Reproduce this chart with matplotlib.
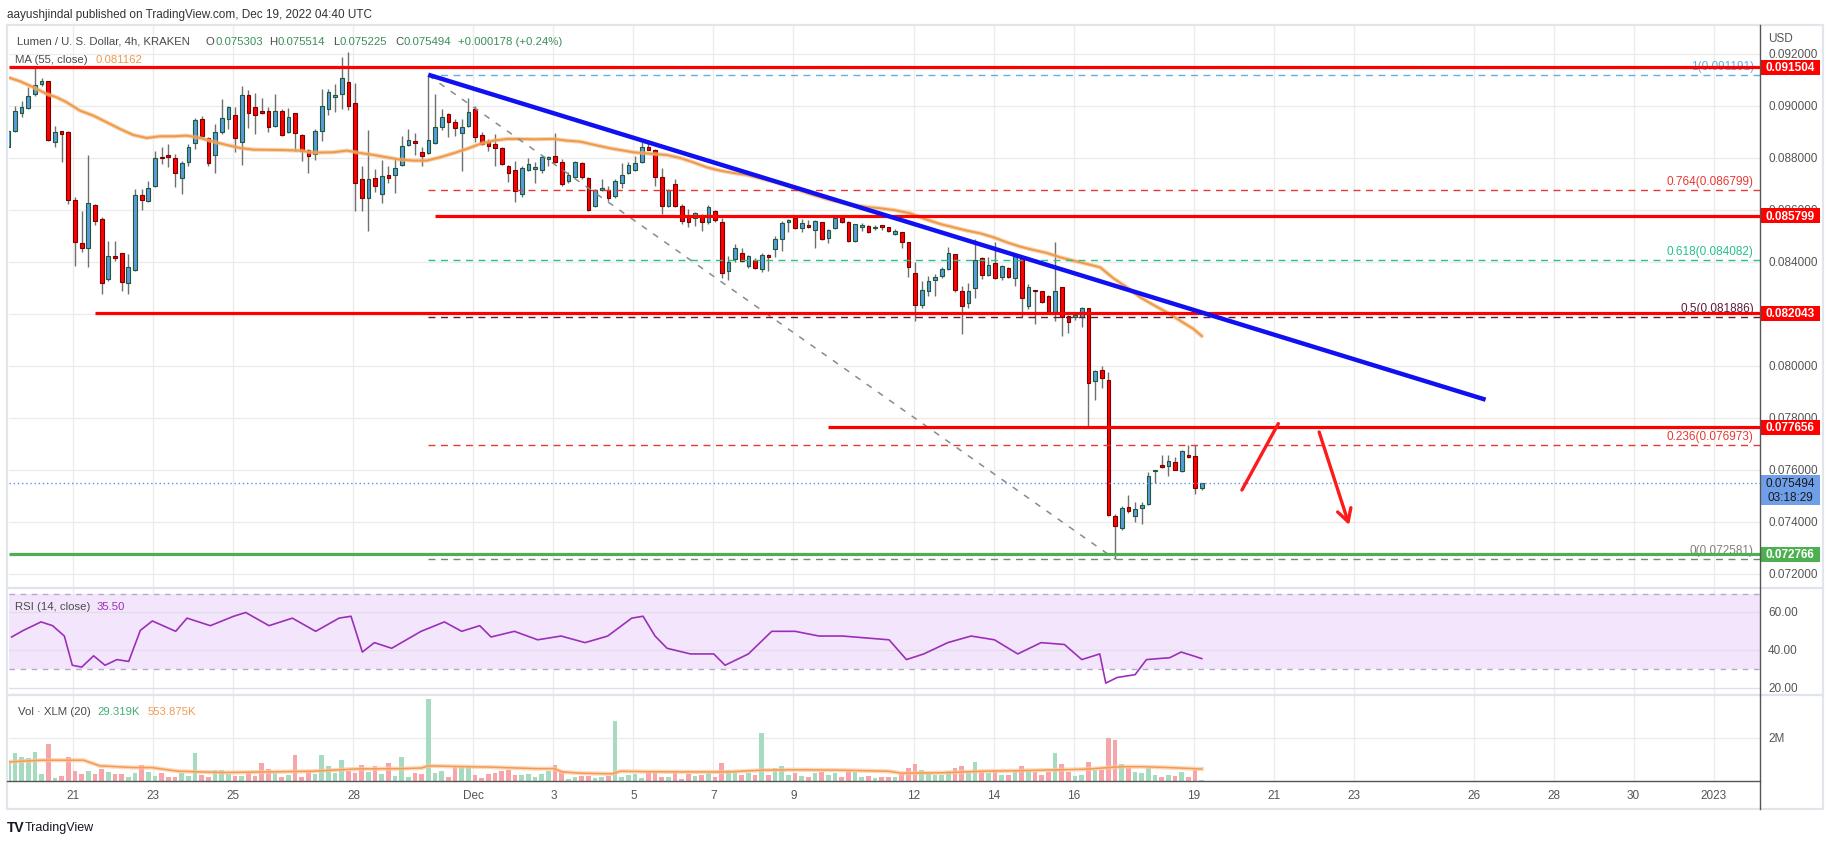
import matplotlib
matplotlib.use("Agg")
import matplotlib.pyplot as plt
import matplotlib.transforms as mtransforms
from matplotlib.patches import Rectangle
from matplotlib.lines import Line2D
import numpy as np

plt.rcParams['font.family'] = ['Liberation Sans', 'DejaVu Sans']

# ---------------- data ----------------
# candle k (k = 0 is the half-hidden candle at the left edge) sits at day DAY0 + k/6
DAY0 = 19.373
opens = [0.088420,
0.089064, 0.089731, 0.089923, 0.090462, 0.090846, 0.090962, 0.088616, 0.089039, 0.089013, 0.086398,
0.084731, 0.084539, 0.086218, 0.085667, 0.083347, 0.084218, 0.084347, 0.083193, 0.083706, 0.086603,
0.086347, 0.086949, 0.088026, 0.088077, 0.088000, 0.087231, 0.087846, 0.088577, 0.089500, 0.088782,
0.088129, 0.089000, 0.089500, 0.089680, 0.088616, 0.090449, 0.089962, 0.089769, 0.089808, 0.089231,
0.089834, 0.089026, 0.089731, 0.088898, 0.088334, 0.088167, 0.089039, 0.089898, 0.090346, 0.090462,
0.090923, 0.090116, 0.087193, 0.086462, 0.087231, 0.086616, 0.087347, 0.087347, 0.087731, 0.088500,
0.088654, 0.088231, 0.088193, 0.088577, 0.089193, 0.089718, 0.089385, 0.088987, 0.089231, 0.089885,
0.088885, 0.088616, 0.088552, 0.088385, 0.087693, 0.087539, 0.086616, 0.087564, 0.087603, 0.087539,
0.087962, 0.088077, 0.087846, 0.087141, 0.087295, 0.087821, 0.087231, 0.086154, 0.086770, 0.086782,
0.086564, 0.087038, 0.087436, 0.087564, 0.087870, 0.088430, 0.088321, 0.087270, 0.086154, 0.087013,
0.086154, 0.085744, 0.085692, 0.085731, 0.085539, 0.085962, 0.085539, 0.083679, 0.084115, 0.084346,
0.083846, 0.084077, 0.083731, 0.084270, 0.084500, 0.084898, 0.085564, 0.085692, 0.085333, 0.085423,
0.085231, 0.085551, 0.084923, 0.085308, 0.085692, 0.085564, 0.084808, 0.085372, 0.085385, 0.085308,
0.085398, 0.085346, 0.085077, 0.085154, 0.084769, 0.083577, 0.082372, 0.082885, 0.083308, 0.083462,
0.083744, 0.084308, 0.082885, 0.082436, 0.083000, 0.084154, 0.083500, 0.083962, 0.083436, 0.083782,
0.083410, 0.084192, 0.082333, 0.082923, 0.082885, 0.082692, 0.082077, 0.083038, 0.081923, 0.081910,
0.081885, 0.082231, 0.079423, 0.079872, 0.079460, 0.074257, 0.073769, 0.074577, 0.074231, 0.074539,
0.074693, 0.075962, 0.076205, 0.076154, 0.076308, 0.075962, 0.076590, 0.076564, 0.075303]
highs = [0.089060,
0.090026, 0.090193, 0.090731, 0.091475, 0.091090, 0.090987, 0.089257, 0.089064, 0.089064, 0.086500,
0.085988, 0.088141, 0.086244, 0.085731, 0.084834, 0.084808, 0.084347, 0.084321, 0.086821, 0.086821,
0.087141, 0.088270, 0.088423, 0.088552, 0.088167, 0.087911, 0.088552, 0.089552, 0.089641, 0.088808,
0.089321, 0.090282, 0.090026, 0.089962, 0.090769, 0.090628, 0.090500, 0.090321, 0.089962, 0.090475,
0.089898, 0.089936, 0.089757, 0.088936, 0.088372, 0.089128, 0.090667, 0.090667, 0.090859, 0.091885,
0.092077, 0.090885, 0.087705, 0.089090, 0.087590, 0.087949, 0.087705, 0.088013, 0.088859, 0.089116,
0.088975, 0.088423, 0.091191, 0.090475, 0.089898, 0.089731, 0.089500, 0.089500, 0.090321, 0.090026,
0.089000, 0.088744, 0.088936, 0.088423, 0.087744, 0.087911, 0.087718, 0.088013, 0.087846, 0.088103,
0.088103, 0.088975, 0.087962, 0.087462, 0.087911, 0.087846, 0.087270, 0.086834, 0.087205, 0.086949,
0.087205, 0.087821, 0.087846, 0.088100, 0.088620, 0.088700, 0.088359, 0.087615, 0.086821, 0.087205,
0.086244, 0.086051, 0.085949, 0.085859, 0.086205, 0.086000, 0.085692, 0.084257, 0.084705, 0.084564,
0.084295, 0.084154, 0.084346, 0.084321, 0.084999, 0.085603, 0.085667, 0.085731, 0.085667, 0.085641,
0.085641, 0.085564, 0.085282, 0.085731, 0.085731, 0.085603, 0.085487, 0.085513, 0.085423, 0.085436,
0.085410, 0.085359, 0.085270, 0.085154, 0.084795, 0.083999, 0.083282, 0.083487, 0.083551, 0.083808,
0.084577, 0.084333, 0.083103, 0.083205, 0.084897, 0.084192, 0.084192, 0.084769, 0.083897, 0.083833,
0.084282, 0.084256, 0.083154, 0.082949, 0.082897, 0.082731, 0.084769, 0.083064, 0.081974, 0.082103,
0.082295, 0.082256, 0.079859, 0.080000, 0.079769, 0.074308, 0.074616, 0.075051, 0.074770, 0.074770,
0.075923, 0.076026, 0.076590, 0.076590, 0.076513, 0.076795, 0.076962, 0.076987, 0.075514]
lows = [0.088420,
0.089000, 0.089603, 0.089898, 0.090410, 0.090769, 0.088680, 0.088423, 0.087846, 0.086244, 0.083872,
0.084385, 0.083834, 0.085449, 0.082783, 0.083295, 0.084065, 0.082911, 0.082783, 0.083680, 0.086013,
0.086308, 0.086885, 0.087782, 0.087654, 0.086885, 0.086629, 0.087718, 0.088359, 0.088808, 0.087718,
0.087423, 0.088936, 0.089128, 0.088231, 0.087757, 0.089167, 0.088936, 0.089705, 0.089026, 0.089218,
0.088859, 0.088962, 0.088295, 0.087885, 0.087436, 0.087936, 0.088680, 0.089680, 0.089769, 0.089898,
0.089872, 0.085962, 0.085962, 0.085218, 0.086718, 0.086270, 0.087064, 0.086680, 0.087718, 0.088475,
0.088141, 0.087718, 0.088167, 0.088552, 0.089100, 0.088834, 0.088872, 0.087500, 0.089218, 0.088616,
0.088526, 0.088295, 0.087718, 0.087744, 0.087103, 0.086308, 0.086526, 0.087526, 0.087039, 0.087423,
0.087693, 0.087808, 0.086949, 0.087039, 0.087270, 0.087205, 0.085988, 0.086141, 0.086731, 0.086372,
0.086462, 0.086846, 0.087397, 0.087526, 0.087800, 0.088300, 0.086949, 0.085859, 0.086115, 0.086115,
0.085474, 0.085372, 0.085410, 0.085218, 0.085474, 0.085564, 0.083410, 0.083334, 0.084000, 0.084000,
0.083795, 0.083744, 0.083641, 0.083680, 0.084193, 0.084449, 0.085154, 0.085282, 0.085179, 0.085333,
0.084564, 0.084859, 0.084731, 0.085282, 0.085513, 0.084795, 0.084795, 0.085218, 0.085128, 0.085231,
0.085231, 0.085154, 0.085051, 0.084539, 0.083449, 0.081756, 0.082256, 0.082692, 0.082692, 0.083410,
0.083718, 0.082872, 0.081244, 0.082256, 0.082641, 0.083359, 0.083462, 0.083359, 0.083333, 0.083410,
0.083103, 0.081898, 0.082205, 0.081641, 0.082436, 0.082077, 0.081756, 0.081180, 0.081269, 0.081795,
0.081500, 0.077693, 0.078718, 0.079154, 0.074257, 0.072581, 0.073705, 0.074346, 0.074026, 0.073923,
0.074667, 0.075513, 0.076103, 0.075769, 0.076000, 0.075949, 0.076487, 0.075080, 0.075225]
closes = [0.089060,
0.089834, 0.089987, 0.090385, 0.090834, 0.090962, 0.088718, 0.089000, 0.088936, 0.086411, 0.084795,
0.084539, 0.086270, 0.085577, 0.083193, 0.084244, 0.084180, 0.083257, 0.083808, 0.086603, 0.086411,
0.086847, 0.088000, 0.088000, 0.088052, 0.087423, 0.087808, 0.088423, 0.089475, 0.088872, 0.087808,
0.089000, 0.089539, 0.089987, 0.088770, 0.090436, 0.089731, 0.089680, 0.089744, 0.089193, 0.089808,
0.088885, 0.089603, 0.088962, 0.088295, 0.088103, 0.089039, 0.090000, 0.090539, 0.090423, 0.091077,
0.090026, 0.087039, 0.086462, 0.087193, 0.086923, 0.087308, 0.087257, 0.087629, 0.088462, 0.088693,
0.088577, 0.088103, 0.088693, 0.089193, 0.089577, 0.089385, 0.089154, 0.089193, 0.089769, 0.088808,
0.088552, 0.088487, 0.088385, 0.087770, 0.087423, 0.086731, 0.087641, 0.087770, 0.087629, 0.088064,
0.088064, 0.087846, 0.087000, 0.087347, 0.087872, 0.087282, 0.086000, 0.086782, 0.086847, 0.086475,
0.087141, 0.087359, 0.087744, 0.087821, 0.088450, 0.088320, 0.087295, 0.086154, 0.086782, 0.086154,
0.085603, 0.085564, 0.085885, 0.085539, 0.086115, 0.085616, 0.083577, 0.084000, 0.084551, 0.084039,
0.084257, 0.083769, 0.084270, 0.084193, 0.084898, 0.085500, 0.085628, 0.085308, 0.085513, 0.085346,
0.085577, 0.084885, 0.085244, 0.085705, 0.085539, 0.084808, 0.085462, 0.085398, 0.085154, 0.085359,
0.085372, 0.085192, 0.085205, 0.084769, 0.083808, 0.082372, 0.082923, 0.083269, 0.083423, 0.083744,
0.084360, 0.082923, 0.082308, 0.082885, 0.084077, 0.083500, 0.083885, 0.083385, 0.083846, 0.083449,
0.084231, 0.082615, 0.083038, 0.082885, 0.082462, 0.082103, 0.082885, 0.081885, 0.081692, 0.081936,
0.082231, 0.079346, 0.079821, 0.079538, 0.074282, 0.073872, 0.074539, 0.074449, 0.074500, 0.074654,
0.075782, 0.075987, 0.076141, 0.076359, 0.076026, 0.076731, 0.076500, 0.075308, 0.075494]

# volume in millions of XLM, one per candle
volumes = [0.90,
1.27, 1.09, 1.04, 1.35, 0.34, 1.69, 0.16, 0.22, 1.09, 0.45,
0.34, 0.48, 0.34, 0.57, 0.43, 0.31, 0.34, 0.20, 0.39, 0.76,
0.43, 0.25, 0.39, 0.20, 0.20, 0.39, 0.25, 1.27, 0.29, 0.20,
0.53, 0.50, 0.34, 0.25, 0.25, 0.39, 0.25, 0.81, 0.57, 0.39,
0.20, 0.29, 1.18, 0.20, 0.43, 0.34, 1.22, 0.71, 0.39, 0.95,
0.48, 0.39, 0.76, 0.43, 0.71, 0.34, 0.81, 0.25, 1.13, 0.20,
0.39, 0.31, 3.78, 0.39, 0.48, 0.20, 0.71, 0.67, 0.71, 0.29,
0.16, 0.34, 0.39, 0.48, 0.53, 0.29, 0.29, 0.34, 0.20, 0.34,
0.48, 0.76, 0.45, 0.11, 0.20, 0.25, 0.25, 0.16, 0.20, 0.25,
2.76, 0.20, 0.29, 0.34, 0.16, 0.48, 0.43, 0.20, 0.20, 0.40,
0.11, 0.34, 0.25, 0.30, 0.35, 0.20, 0.85, 0.50, 0.40, 0.30,
0.35, 0.30, 2.20, 0.30, 0.60, 0.70, 0.30, 0.35, 0.25, 0.20,
0.35, 0.40, 0.30, 0.35, 0.20, 0.45, 0.40, 0.20, 0.25, 0.15,
0.20, 0.20, 0.20, 0.35, 0.60, 0.80, 0.50, 0.35, 0.30, 0.30,
0.45, 0.60, 0.70, 0.40, 0.90, 0.45, 0.35, 0.50, 0.30, 0.30,
0.45, 0.70, 0.50, 0.40, 0.30, 0.40, 1.30, 0.80, 0.40, 0.25,
0.30, 0.90, 0.50, 0.50, 2.00, 1.90, 0.80, 0.60, 0.40, 0.35,
0.60, 0.30, 0.20, 0.30, 0.25, 0.40, 0.20, 0.50, 0.03]

# MA(55) readings: candle position (same numbering as above) and value
ma_pos = [0.25, 1.75, 3.75, 5.75, 7.25, 8.75, 10.75, 12.75, 14.75, 16.75, 18.75, 20.75, 22.75,
          24.75, 26.75, 28.75, 30.75, 32.75, 34.75, 36.75, 40.75, 43.75, 45.75, 48.75, 50.75,
          52.75, 54.75, 56.75, 58.75, 60.75, 62.75, 64.75, 66.75, 68.75, 70.75, 72.75, 74.75,
          76.75, 78.75, 81.75, 83.75, 85.75, 87.75, 90.25, 93.75, 96.75, 98.75, 100.75, 102.75,
          104.75, 106.75, 108.75, 110.75, 112.75, 114.75, 116.75, 118.75, 120.75, 122.75, 124.75,
          126.75, 128.75, 130.75, 132.75, 135.25, 137.75, 139.75, 141.75, 143.75, 145.75, 147.75,
          149.75, 151.75, 153.75, 155.75, 157.75, 159.75, 161.75, 163.75, 165.75, 167.75, 169.75,
          171.75, 173.75, 175.75, 177.75, 179]
ma_val = [0.091090, 0.090962, 0.090731, 0.090474, 0.090346, 0.090154, 0.089833, 0.089641, 0.089385,
          0.089128, 0.088897, 0.088782, 0.088846, 0.088846, 0.088872, 0.088782, 0.088641, 0.088513,
          0.088397, 0.088333, 0.088320, 0.088295, 0.088218, 0.088231, 0.088295, 0.088205, 0.088129,
          0.088039, 0.087949, 0.087911, 0.087911, 0.088039, 0.088193, 0.088359, 0.088552, 0.088680,
          0.088744, 0.088744, 0.088731, 0.088744, 0.088680, 0.088641, 0.088526, 0.088385, 0.088231,
          0.088167, 0.088128, 0.088013, 0.087846, 0.087654, 0.087526, 0.087436, 0.087359, 0.087231,
          0.087103, 0.086949, 0.086756, 0.086590, 0.086436, 0.086308, 0.086205, 0.086128, 0.086077,
          0.086013, 0.085885, 0.085640, 0.085474, 0.085346, 0.085218, 0.085115, 0.084961, 0.084769,
          0.084603, 0.084474, 0.084359, 0.084192, 0.084064, 0.083936, 0.083808, 0.083385, 0.083038,
          0.082654, 0.082359, 0.082077, 0.081756, 0.081436, 0.081162]

# RSI(14) readings
rsi_pos = [0.5, 2.26, 4.9, 6.64, 8.4, 9.6, 11, 12.8, 14.5, 16.3, 18.05, 19.8, 21.6, 25.1, 26.8,
           30.3, 33.8, 35.6, 39.1, 42.6, 46.1, 49.6, 51.4, 53.1, 54.9, 57.5, 61.9, 65.4, 68.0,
           70.7, 72.4, 75.9, 79.4, 82.9, 86.5, 89.9, 93.5, 95.2, 97, 98.8, 102.3, 105.8, 107.5,
           111, 114.5, 118, 121.6, 125.1, 132.1, 134.7, 137.3, 140.9, 144.4, 147.9, 151.4, 154.9,
           158.4, 161, 163.7, 164.6, 166.3, 169, 170.7, 174.2, 175.9, 177.7, 179]
rsi_val = [47, 50.5, 55, 53, 47.5, 32, 31, 37, 32, 35, 34, 50.5, 55.5, 50, 57, 53, 58, 60, 53,
           57, 50, 57, 58, 39, 44, 41, 50, 55, 50, 53, 47, 50, 45.5, 47.5, 44, 47.5, 57, 58,
           47.5, 41, 38, 38, 32, 38, 50, 50, 47.5, 47.5, 45.5, 35, 38, 44, 47.5, 45.5, 38, 44,
           43, 35, 38, 22.5, 25.5, 27, 35, 36, 39, 37, 35.5]

# Volume MA(20) readings
vma_pos = [0.0, 5.0, 11.3, 13.7, 18.8, 21.5, 25.5, 28.9, 32.2, 38.9, 45.6, 52.3, 59.0, 62.0,
           63.0, 65.7, 72.4, 79.1, 81.8, 83.1, 85.8, 90.5, 91.8, 95.8, 102.2, 108, 113, 118,
           125, 132, 134, 140, 146, 152, 158, 162, 165, 167, 170, 174, 179]
vma_val = [0.88, 0.96, 0.96, 0.70, 0.62, 0.62, 0.45, 0.42, 0.39, 0.42, 0.45, 0.56, 0.57, 0.60,
           0.70, 0.68, 0.64, 0.57, 0.57, 0.42, 0.36, 0.33, 0.45, 0.43, 0.42, 0.42, 0.50, 0.52,
           0.50, 0.45, 0.36, 0.38, 0.45, 0.48, 0.52, 0.55, 0.62, 0.66, 0.66, 0.62, 0.554]

# horizontal levels and drawings
red_levels = [0.091504, 0.085799, 0.082043, 0.077656]
red_starts = [19.39, 30.04, 21.54, 39.86]
green_level = 0.072766
last_price = 0.075494
fib_ratios = ['1', '0.764', '0.618', '0.5', '0.236', '0']
fib_levels = [0.091191, 0.086799, 0.084082, 0.081886, 0.076973, 0.072581]
fib_colors = ['#5eb0e5', '#e53935', '#26c08a', '#5b1a3c', '#e53935', '#808080']
fib_start, fib_end = 29.87, 47.04
trend_x = [29.87, 56.30]
trend_y = [0.091215, 0.078716]
arrow_up_x = [50.21, 51.12]
arrow_up_y = [0.075242, 0.077796]
arrow_dn_x = [52.14, 52.89]
arrow_dn_y = [0.077473, 0.073896]

tick_days = [21, 23, 25, 28, 31, 33, 35, 37, 39, 42, 44, 46, 49, 51, 53, 56, 58, 60, 62]
tick_labels = ['21', '23', '25', '28', 'Dec', '3', '5', '7', '9', '12', '14', '16', '19',
               '21', '23', '26', '28', '30', '2023']
price_ticks = [0.072, 0.074, 0.076, 0.078, 0.080, 0.082, 0.084, 0.086, 0.088, 0.090, 0.092]

# ---------------- figure ----------------
W, H = 1834, 845
fig = plt.figure(figsize=(W / 100, H / 100), dpi=100)
fig.patch.set_facecolor('white')


def add_ax(x0, y0, x1, y1):
    return fig.add_axes([x0 / W, 1 - y1 / H, (x1 - x0) / W, (y1 - y0) / H])


def ftext(x, y, s, **kw):
    return fig.text(x / W, 1 - y / H, s, **kw)


XL, XR = 9, 1760
ax = add_ax(XL, 27, XR, 589)
axr = add_ax(XL, 589, XR, 696)
axv = add_ax(XL, 696, XR, 782)
DLO, DHI = 19.39, 63.16
GRID = '#ececec'
for a in (ax, axr, axv):
    a.set_xlim(DLO, DHI)
    for s in a.spines.values():
        s.set_visible(False)
    a.tick_params(left=False, right=False, bottom=False, top=False,
                  labelleft=False, labelbottom=False)
    a.patch.set_alpha(0)
    for d in tick_days:
        a.axvline(d, color=GRID, lw=1, zorder=0)

ax.set_ylim(0.071473, 0.093088)
axr.set_ylim(16.2, 73.0)
axv.set_ylim(0, 3.97)

for p in price_ticks:
    ax.axhline(p, color=GRID, lw=1, zorder=0)

n = len(closes)
days = DAY0 + np.arange(n) / 6.0
UP_F, UP_E = '#5b9ade', '#1e5a34'
DN_F, DN_E = '#ff0000', '#7a0000'
WICK = '#707070'
bw = 0.092
for d, o, h, l, c in zip(days, opens, highs, lows, closes):
    up = c >= o
    ax.vlines(d, l, h, color=WICK, lw=1.0, zorder=2)
    lo = min(o, c)
    ht = max(abs(c - o), 0.00006)
    ax.add_patch(Rectangle((d - bw / 2, lo), bw, ht, facecolor=UP_F if up else DN_F,
                           edgecolor=UP_E if up else DN_E, lw=0.8, zorder=3))


def pos2day(pos):
    return DAY0 + np.asarray(pos, dtype=float) / 6.0


# MA 55
ma_days = pos2day(ma_pos)
ax.plot(ma_days, ma_val, color='#f3b57a', lw=3.0, alpha=0.6, zorder=4, solid_capstyle='round')
ax.plot(ma_days, ma_val, color='#ee9a48', lw=1.4, zorder=4)

# fib retracement
ax.plot([fib_start, fib_end], [fib_levels[0], fib_levels[-1]], color='#8a8a8a', lw=1.1,
        ls=(0, (4, 5)), zorder=5)
yoff = mtransforms.offset_copy(
    mtransforms.blended_transform_factory(ax.transAxes, ax.transData), fig=fig, y=3, units='dots')
for r, lv, col in zip(fib_ratios, fib_levels, fib_colors):
    ax.hlines(lv, fib_start, DHI, color=col, lw=1.0, ls=(0, (5, 4)), zorder=5)
    ax.text(0.9965, lv, f'{r}({lv:.6f})', transform=yoff, ha='right', va='bottom',
            fontsize=8.5, color=col, zorder=6)

# red support/resistance lines
for lv, st in zip(red_levels, red_starts):
    ax.hlines(lv, st, DHI, color='#ff0000', lw=2.3, zorder=6)
ax.hlines(green_level, DLO, DHI, color='#4caf50', lw=2.3, zorder=6)
ax.axhline(last_price, color='#5b8def', lw=1.0, ls=(0, (1, 2)), zorder=5)

# blue trendline
ax.plot(trend_x, trend_y, color='#1010f0', lw=3.2, zorder=7, solid_capstyle='butt')

# hand-drawn red arrows
ax.plot(arrow_up_x, arrow_up_y, color='#ff1a1a', lw=2.4, zorder=7, solid_capstyle='round')
ax.annotate('', xy=(arrow_dn_x[1], arrow_dn_y[1]), xytext=(arrow_dn_x[0], arrow_dn_y[0]),
            arrowprops=dict(arrowstyle='->,head_length=0.9,head_width=0.5', color='#ff1a1a',
                            lw=2.4, shrinkA=0, shrinkB=0), zorder=7)

# right price scale
tr_p = mtransforms.blended_transform_factory(ax.transAxes, ax.transData)
xlab = (1768 - XL) / (XR - XL)
for p in price_ticks:
    ax.text(xlab, p, f'{p:.6f}', transform=tr_p, ha='left', va='center', fontsize=8.5,
            color='#555555', clip_on=False, zorder=1)
box_w = (1820 - XR) / (XR - XL)
box_h = 15 / 26000.0


def price_box(lv, col, txt_col='white'):
    ax.add_patch(Rectangle((1.0, lv - box_h / 2), box_w, box_h, transform=tr_p, facecolor=col,
                           edgecolor='none', clip_on=False, zorder=20))
    ax.text(1.0 + box_w / 2, lv, f'{lv:.6f}', transform=tr_p, ha='center', va='center',
            fontsize=8.5, color=txt_col, fontweight='bold', clip_on=False, zorder=21)


for lv in red_levels:
    price_box(lv, '#ff0000')
price_box(green_level, '#4caf50')
bh2 = 30 / 26000.0
ax.add_patch(Rectangle((1.0, last_price - bh2 + box_h / 2 + 0.00002), box_w, bh2, transform=tr_p,
                       facecolor='#6f9fe9', edgecolor='none', clip_on=False, zorder=20))
ax.text(1.0 + box_w / 2, last_price, f'{last_price:.6f}', transform=tr_p, ha='center',
        va='center', fontsize=8.5, color='#1a1a1a', clip_on=False, zorder=21)
ax.text(1.0 + box_w / 2, last_price - 0.00054, '03:18:29', transform=tr_p, ha='center',
        va='center', fontsize=8.5, color='#1a1a1a', clip_on=False, zorder=21)

# ---------------- RSI ----------------
axr.axhspan(30, 70, color='#f3e6fc', zorder=0, lw=0)
for v in (20, 40, 60):
    axr.axhline(v, color='#e4dce9', lw=1, zorder=0.5)
for v in (30, 70):
    axr.axhline(v, color='#b7a8c6', lw=1, ls=(0, (4, 4)), zorder=1)
axr.plot(pos2day(rsi_pos), rsi_val, color='#9b30b8', lw=1.2, zorder=3)
tr_r = mtransforms.blended_transform_factory(axr.transAxes, axr.transData)
for v in (20, 40, 60):
    axr.text(xlab, v, f'{v:.2f}', transform=tr_r, ha='left', va='center', fontsize=8.5,
             color='#555555', clip_on=False)

# ---------------- Volume ----------------
vcol = ['#a6dbbf' if c >= o else '#f6a6ab' for o, c in zip(opens, closes)]
axv.bar(days, volumes, width=0.115, color=vcol, zorder=2)
vma_days = pos2day(vma_pos)
axv.plot(vma_days, vma_val, color='#fbc9a0', lw=3, alpha=0.7, zorder=3)
axv.plot(vma_days, vma_val, color='#f59a52', lw=1.1, zorder=3)
axv.axhline(2.0, color=GRID, lw=1, zorder=0)
tr_v = mtransforms.blended_transform_factory(axv.transAxes, axv.transData)
axv.text(xlab, 2.0, '2M', transform=tr_v, ha='left', va='center', fontsize=8.5,
         color='#555555', clip_on=False)

axv.set_xticks(tick_days)
axv.set_xticklabels(tick_labels)
axv.tick_params(axis='x', labelbottom=True, length=0, pad=6, labelsize=8.5, labelcolor='#555555')

# ---------------- frame lines ----------------
def fline(xs, ys, **kw):
    fig.add_artist(Line2D([x / W for x in xs], [1 - y / H for y in ys], **kw))


fline([7, 1823, 1823, 7, 7], [26, 26, 810, 810, 26], color='#e3e5ec', lw=1.6)
fline([7, 1823], [589, 589], color='#e0e3eb', lw=1.6)
fline([7, 1823], [696, 696], color='#e0e3eb', lw=1.6)
fline([XR, XR], [26, 810], color='#555555', lw=1.0)
fline([7, XR], [782, 782], color='#555555', lw=1.0)

# ---------------- texts ----------------
renderer = fig.canvas.get_renderer()


def seq_text(x, y, parts, size=8.2, gap=5):
    for s, col in parts:
        t = ftext(x, y, s, fontsize=size, color=col, va='center')
        x += t.get_window_extent(renderer).width + gap


GREENV = '#3a8f5a'
LBL = '#4a4a4a'
ftext(7, 15, 'aayushjindal published on TradingView.com, Dec 19, 2022 04:40 UTC', fontsize=8.5,
      color='#333333', va='center')
ftext(17, 42, 'Lumen / U. S. Dollar, 4h, KRAKEN', fontsize=8.2, color=LBL, va='center')
for x, lab, val in [(206, 'O', '0.075303'), (269, 'H', '0.075514'), (333, 'L', '0.075225'),
                    (395, 'C', '0.075494')]:
    seq_text(x, 42, [(lab, LBL), (val, GREENV)], gap=0.5)
ftext(458, 42, '+0.000178 (+0.24%)', fontsize=8.2, color=GREENV, va='center')
seq_text(15, 60, [('MA (55, close)', LBL), ('0.081162', '#ee9a48')], gap=8)
seq_text(15, 607, [('RSI (14, close)', LBL), ('35.50', '#9b30b8')], gap=6)
seq_text(18, 712, [('Vol · XLM (20)', LBL), ('29.319K', '#3fae72'), ('553.875K', '#f59a52')],
         gap=7)
ftext(1768, 39, 'USD', fontsize=8.5, color='#555555', va='center')
ftext(7, 828, 'TV', fontsize=10, color='#131722', va='center', fontweight='heavy')
ftext(25, 828, 'TradingView', fontsize=9, color='#131722', va='center')

fig.savefig('out.png', dpi=100, facecolor='white')
